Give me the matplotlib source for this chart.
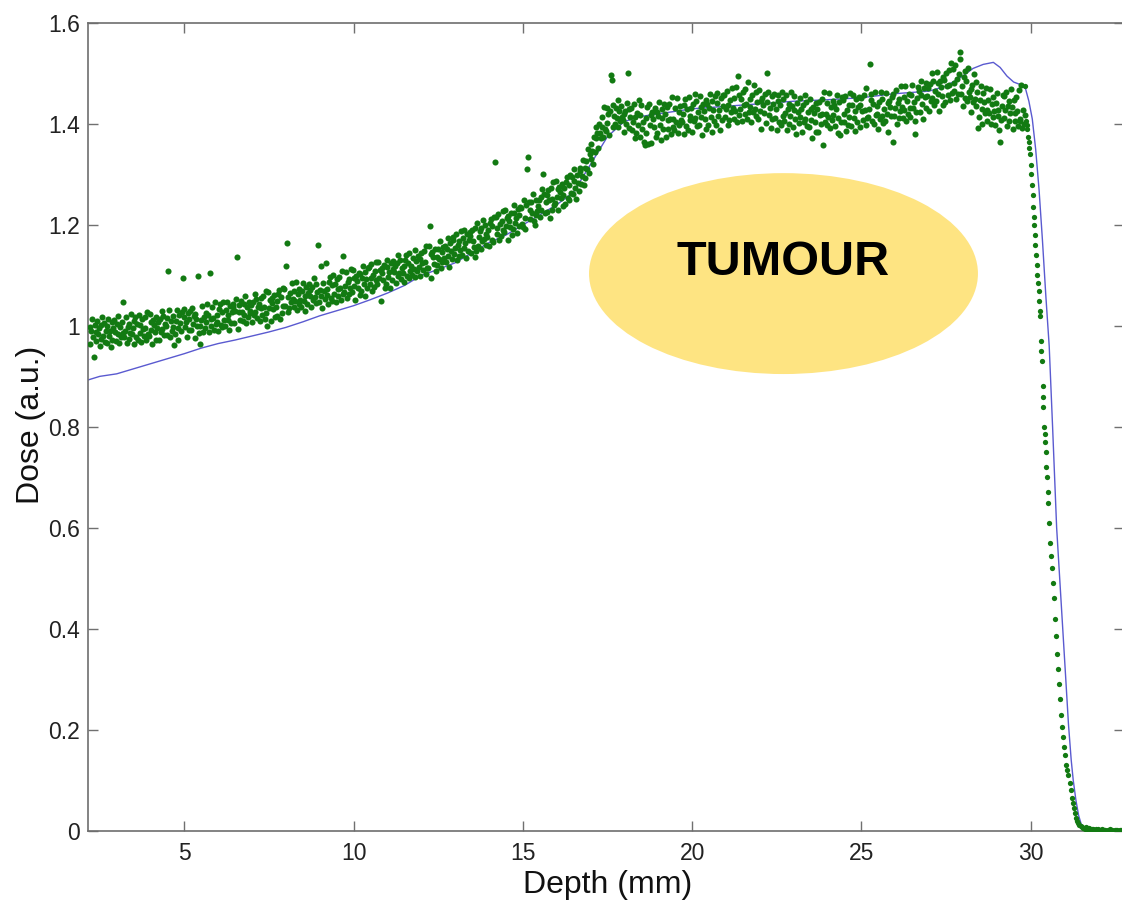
import matplotlib
matplotlib.use('Agg')
import matplotlib.pyplot as plt
import matplotlib.patches as patches
from matplotlib.ticker import FuncFormatter
import numpy as np

# measured dose before the fall-off, in thousandths,
# one row per mm starting at 2.2 mm, points 0.025 mm apart
band_start = 2.2
band_step = 0.025
band_rows = [
    [997, 965, 990, 1013, 977, 938, 1002, 987, 971, 1009, 983, 995, 960, 1001, 975, 1017, 980, 1006, 968, 990,
     966, 999, 1014, 979, 989, 959, 1007, 973, 995, 1011, 988, 971, 1004, 983, 1020, 966, 998, 978, 1008, 986],
    [1048, 978, 990, 1018, 966, 997, 974, 1004, 986, 1023, 983, 996, 965, 1009, 1018, 977, 1003, 972, 1022, 986,
     1002, 968, 1013, 993, 980, 1017, 995, 972, 1028, 983, 979, 1023, 991, 1007, 964, 1011, 1001, 988, 1017, 973],
    [996, 1008, 973, 1014, 988, 1030, 993, 1019, 981, 1003, 999, 982, 1015, 1108, 1031, 977, 1009, 989, 1019, 997,
     962, 984, 1009, 1032, 996, 973, 1021, 1006, 990, 1028, 1095, 1018, 1033, 998, 1008, 978, 1026, 992, 1014, 1030],
    [991, 1035, 1003, 1019, 976, 1023, 1013, 1000, 1098, 985, 964, 999, 1011, 1039, 987, 1018, 995, 1025, 1007, 1044,
     1022, 988, 1105, 1013, 1000, 1037, 1015, 992, 1048, 1003, 1008, 1021, 990, 1034, 1043, 1002, 1028, 997, 1047, 1011],
    [999, 1032, 1047, 1012, 1022, 992, 1040, 1006, 1028, 1044, 1037, 1005, 1030, 1053, 1136, 994, 1042, 1027, 1011, 1049,
     1027, 1010, 1043, 1022, 1059, 1005, 1037, 1017, 1047, 1025, 1030, 1042, 1007, 1048, 1022, 1064, 1027, 1053, 1015, 1037],
    [1044, 1010, 1055, 1035, 1022, 1059, 1037, 1014, 1070, 1025, 1000, 1068, 1036, 1052, 1009, 1056, 1046, 1033, 1062, 1018,
     1037, 1050, 1019, 1063, 1072, 1014, 1057, 1026, 1076, 1040, 1073, 1039, 1118, 1164, 1027, 1058, 1035, 1065, 1047, 1084],
    [1054, 1037, 1070, 1049, 1086, 1032, 1064, 1044, 1074, 1052, 1037, 1070, 1085, 1050, 1060, 1030, 1078, 1044, 1066, 1082,
     1060, 1072, 1037, 1078, 1052, 1094, 1057, 1083, 1045, 1067, 1160, 1047, 1072, 1118, 1059, 1036, 1084, 1069, 1053, 1125],
    [1061, 1074, 1043, 1087, 1096, 1055, 1081, 1050, 1100, 1064, 1082, 1048, 1093, 1073, 1060, 1097, 1075, 1052, 1108, 1063,
     1138, 1067, 1079, 1107, 1055, 1086, 1063, 1093, 1075, 1112, 1067, 1111, 1079, 1095, 1052, 1099, 1089, 1076, 1105, 1061],
    [1102, 1070, 1095, 1118, 1082, 1059, 1107, 1092, 1076, 1114, 1116, 1082, 1094, 1122, 1070, 1101, 1078, 1108, 1090, 1127,
     1082, 1126, 1094, 1110, 1050, 1114, 1104, 1091, 1120, 1076, 1083, 1116, 1131, 1096, 1106, 1076, 1124, 1090, 1112, 1128],
    [1107, 1119, 1084, 1125, 1099, 1141, 1104, 1130, 1092, 1114, 1105, 1118, 1087, 1131, 1140, 1099, 1125, 1094, 1144, 1108,
     1118, 1101, 1134, 1113, 1150, 1096, 1128, 1108, 1138, 1116, 1133, 1099, 1144, 1124, 1111, 1148, 1126, 1103, 1159, 1114],
    [1114, 1158, 1198, 1142, 1095, 1146, 1136, 1123, 1152, 1108, 1137, 1120, 1153, 1132, 1169, 1115, 1147, 1127, 1157, 1135,
     1159, 1127, 1152, 1175, 1139, 1116, 1164, 1149, 1133, 1171, 1176, 1142, 1154, 1182, 1130, 1161, 1138, 1168, 1150, 1187],
    [1141, 1174, 1189, 1154, 1164, 1134, 1182, 1148, 1170, 1186, 1178, 1144, 1189, 1169, 1156, 1193, 1137, 1148, 1204, 1159,
     1176, 1188, 1153, 1194, 1168, 1210, 1173, 1199, 1161, 1183, 1177, 1190, 1159, 1203, 1212, 1171, 1197, 1166, 1216, 1325],
    [1216, 1182, 1194, 1222, 1170, 1201, 1178, 1208, 1190, 1227, 1186, 1230, 1198, 1214, 1171, 1218, 1208, 1195, 1224, 1180,
     1191, 1224, 1239, 1204, 1214, 1184, 1232, 1198, 1220, 1236, 1234, 1202, 1196, 1250, 1214, 1191, 1239, 1310, 1334, 1246],
    [1229, 1212, 1245, 1224, 1261, 1207, 1200, 1219, 1249, 1227, 1238, 1250, 1215, 1256, 1230, 1272, 1300, 1261, 1223, 1245,
     1259, 1225, 1270, 1250, 1214, 1274, 1252, 1229, 1285, 1240, 1244, 1288, 1256, 1272, 1229, 1276, 1266, 1253, 1282, 1238],
    [1260, 1273, 1242, 1286, 1295, 1254, 1280, 1249, 1299, 1263, 1294, 1262, 1287, 1310, 1274, 1251, 1299, 1284, 1268, 1306,
     1313, 1282, 1297, 1328, 1279, 1313, 1293, 1326, 1311, 1351, 1303, 1341, 1361, 1331, 1346, 1321, 1374, 1345, 1372, 1393],
    [1383, 1352, 1400, 1383, 1373, 1413, 1394, 1374, 1433, 1391, 1387, 1432, 1402, 1419, 1378, 1426, 1497, 1488, 1437, 1394,
     1416, 1399, 1432, 1411, 1448, 1394, 1426, 1406, 1436, 1414, 1407, 1419, 1384, 1425, 1399, 1441, 1500, 1430, 1392, 1414],
    [1432, 1388, 1404, 1440, 1372, 1413, 1383, 1422, 1398, 1447, 1374, 1417, 1437, 1391, 1404, 1365, 1358, 1383, 1412, 1433,
     1360, 1439, 1397, 1418, 1362, 1423, 1410, 1393, 1431, 1374, 1424, 1382, 1415, 1444, 1398, 1368, 1430, 1411, 1390, 1439],
    [1419, 1375, 1433, 1407, 1390, 1439, 1410, 1380, 1453, 1394, 1410, 1388, 1431, 1404, 1452, 1382, 1423, 1397, 1436, 1408,
     1403, 1420, 1380, 1437, 1449, 1395, 1429, 1389, 1454, 1407, 1415, 1431, 1385, 1439, 1405, 1459, 1411, 1445, 1396, 1424],
    [1398, 1455, 1413, 1434, 1378, 1439, 1426, 1409, 1447, 1390, 1440, 1398, 1431, 1460, 1414, 1384, 1446, 1427, 1406, 1455,
     1398, 1441, 1461, 1415, 1428, 1389, 1452, 1407, 1436, 1457, 1457, 1413, 1429, 1465, 1397, 1438, 1408, 1447, 1423, 1472],
    [1431, 1409, 1452, 1425, 1473, 1403, 1496, 1418, 1457, 1429, 1449, 1405, 1463, 1437, 1420, 1469, 1440, 1410, 1483, 1424,
     1434, 1450, 1404, 1458, 1424, 1478, 1430, 1464, 1415, 1443, 1410, 1467, 1425, 1446, 1390, 1451, 1438, 1421, 1459, 1402],
    [1500, 1444, 1464, 1418, 1431, 1392, 1455, 1410, 1439, 1460, 1412, 1429, 1389, 1446, 1458, 1404, 1438, 1398, 1463, 1416,
     1449, 1405, 1421, 1457, 1389, 1430, 1400, 1439, 1415, 1464, 1436, 1394, 1427, 1456, 1410, 1380, 1442, 1423, 1402, 1451],
    [1414, 1430, 1384, 1438, 1404, 1458, 1410, 1444, 1395, 1423, 1393, 1450, 1408, 1429, 1373, 1434, 1421, 1404, 1442, 1385,
     1429, 1385, 1443, 1417, 1400, 1449, 1420, 1359, 1463, 1404, 1420, 1398, 1441, 1414, 1462, 1392, 1433, 1407, 1446, 1418],
    [1438, 1396, 1429, 1458, 1412, 1382, 1444, 1378, 1404, 1453, 1447, 1403, 1419, 1455, 1387, 1428, 1398, 1437, 1413, 1462,
     1395, 1438, 1458, 1412, 1425, 1386, 1449, 1404, 1433, 1454, 1437, 1393, 1451, 1425, 1408, 1457, 1428, 1398, 1471, 1412],
    [1413, 1430, 1518, 1447, 1459, 1405, 1439, 1399, 1464, 1417, 1420, 1436, 1390, 1444, 1410, 1464, 1416, 1450, 1401, 1429,
     1405, 1462, 1420, 1441, 1385, 1446, 1433, 1416, 1454, 1365, 1460, 1416, 1432, 1468, 1400, 1441, 1411, 1450, 1426, 1475],
    [1433, 1411, 1454, 1427, 1475, 1405, 1446, 1420, 1459, 1431, 1414, 1457, 1477, 1431, 1444, 1405, 1380, 1423, 1452, 1473,
     1466, 1424, 1457, 1486, 1440, 1410, 1472, 1453, 1432, 1481, 1456, 1472, 1426, 1480, 1446, 1500, 1452, 1486, 1437, 1465],
    [1445, 1502, 1460, 1481, 1425, 1486, 1473, 1456, 1494, 1437, 1487, 1443, 1501, 1475, 1458, 1507, 1478, 1448, 1521, 1462,
     1509, 1465, 1481, 1517, 1449, 1490, 1460, 1499, 1528, 1543, 1459, 1476, 1436, 1493, 1505, 1451, 1485, 1445, 1510, 1463],
    [1454, 1470, 1424, 1478, 1444, 1498, 1450, 1484, 1435, 1463, 1392, 1414, 1447, 1476, 1430, 1400, 1462, 1443, 1422, 1471,
     1427, 1405, 1448, 1421, 1469, 1399, 1440, 1414, 1453, 1425, 1398, 1441, 1461, 1415, 1428, 1389, 1364, 1407, 1436, 1457],
    [1455, 1411, 1427, 1463, 1395, 1436, 1406, 1445, 1421, 1470, 1434, 1390, 1448, 1422, 1405, 1454, 1425, 1395, 1468, 1409,
     1405, 1478, 1392, 1427, 1400, 1418],
]

# measured dose in the distal fall-off and beyond
fall_depth = [29.83, 29.86, 29.88, 29.90, 29.92, 29.94, 29.96, 29.98, 30.00, 30.02, 30.04, 30.06, 30.07, 30.09,
              30.10, 30.12, 30.14, 30.16, 30.18, 30.20, 30.22, 30.24, 30.26, 30.28, 30.29, 30.31, 30.32, 30.33,
              30.36, 30.37, 30.38, 30.40, 30.42, 30.43, 30.45, 30.46, 30.48, 30.50, 30.52, 30.55, 30.58, 30.60,
              30.63, 30.66, 30.70, 30.73, 30.76, 30.79, 30.82, 30.85, 30.88, 30.91, 30.94, 30.97, 31.00, 31.03,
              31.06, 31.09, 31.12, 31.15, 31.18, 31.21, 31.24, 31.27, 31.30, 31.33, 31.36, 31.40, 31.44, 31.48,
              31.52, 31.56, 31.60, 31.64, 31.68, 31.72, 31.76, 31.80, 31.84, 31.88, 31.92, 31.96, 32.00, 32.04,
              32.08, 32.12, 32.16, 32.20, 32.24, 32.28, 32.32, 32.36, 32.40, 32.44, 32.48, 32.52, 32.56, 32.60,
              32.64, 32.68, 32.72]
fall_dose = [1.475, 1.405, 1.390, 1.398, 1.375, 1.365, 1.352, 1.340, 1.318, 1.300, 1.280, 1.260, 1.235, 1.215,
             1.200, 1.180, 1.160, 1.140, 1.120, 1.100, 1.085, 1.070, 1.050, 1.030, 1.020, 0.970, 0.950, 0.930,
             0.880, 0.860, 0.840, 0.800, 0.785, 0.770, 0.750, 0.720, 0.700, 0.670, 0.650, 0.610, 0.570, 0.545,
             0.520, 0.490, 0.460, 0.420, 0.385, 0.350, 0.320, 0.290, 0.260, 0.230, 0.205, 0.185, 0.165, 0.150,
             0.130, 0.120, 0.110, 0.095, 0.080, 0.065, 0.055, 0.045, 0.035, 0.025, 0.020, 0.015, 0.012, 0.009,
             0.007, 0.006, 0.004, 0.007, 0.003, 0.005, 0.002, 0.004, 0.003, 0.001, 0.003, 0.002, 0.004, 0.001,
             0.002, 0.003, 0.001, 0.002, 0.000, 0.002, 0.001, 0.003, 0.001, 0.000, 0.002, 0.001, 0.002, 0.000,
             0.001, 0.002, 0.001]

# simulated depth-dose curve
sim_depth = [2.16, 2.5, 3.0, 3.5, 4.0, 4.5, 5.0, 5.5, 6.0, 6.5, 7.0, 7.5, 8.0, 8.5, 9.0, 9.5, 10.0, 10.5,
             11.0, 11.5, 12.0, 12.5, 13.0, 13.5, 14.0, 14.5, 15.0, 15.5, 16.0, 16.5, 17.0, 17.5, 18.0, 18.5,
             19.0, 20.0, 21.0, 22.0, 23.0, 24.0, 25.0, 26.0, 27.0, 27.5, 28.0, 28.3, 28.6, 28.9, 29.1, 29.3,
             29.5, 29.7, 29.85, 29.95, 30.05, 30.15, 30.25, 30.35, 30.45, 30.55, 30.65, 30.77, 30.86, 30.95,
             31.04, 31.12, 31.2, 31.26, 31.34, 31.42, 31.5, 31.6, 31.8, 32.2, 32.75]
sim_dose = [0.893, 0.900, 0.905, 0.915, 0.925, 0.935, 0.945, 0.956, 0.965, 0.972, 0.980, 0.988, 0.997, 1.008,
            1.020, 1.030, 1.040, 1.052, 1.065, 1.080, 1.100, 1.112, 1.125, 1.145, 1.165, 1.180, 1.200, 1.220,
            1.240, 1.265, 1.320, 1.375, 1.405, 1.415, 1.420, 1.430, 1.435, 1.440, 1.445, 1.448, 1.452, 1.460,
            1.465, 1.475, 1.495, 1.510, 1.518, 1.522, 1.512, 1.495, 1.483, 1.478, 1.470, 1.445, 1.410, 1.350,
            1.270, 1.170, 1.060, 0.960, 0.800, 0.600, 0.500, 0.400, 0.300, 0.210, 0.140, 0.100, 0.060, 0.030,
            0.012, 0.004, 0.001, 0.000, 0.000]

x_ticks = [5, 10, 15, 20, 25, 30]
y_ticks = [0, 0.2, 0.4, 0.6, 0.8, 1.0, 1.2, 1.4, 1.6]

W, H = 1122, 905
fig = plt.figure(figsize=(W / 100, H / 100), dpi=100)
# axes box in pixels: left spine 88, right spine just past the edge, top 23, bottom 831
ax = fig.add_axes([88.3 / W, (H - 830.7) / H, (1123.5 - 88.3) / W, (830.7 - 23) / H])

band_dose = np.concatenate([np.array(r, dtype=float) for r in band_rows]) / 1000.0
band_depth = band_start + band_step * np.arange(len(band_dose))

green = '#127a12'
ax.plot(sim_depth, sim_dose, color='#5a5ad0', lw=1.0, zorder=2)
ax.plot(band_depth, band_dose, ls='none', marker='o', ms=4.4, mew=0, color=green, zorder=3)
ax.plot(fall_depth, fall_dose, ls='none', marker='o', ms=3.8, mew=0, color=green, zorder=3)

ax.set_xlim(2.162, 32.745)
ax.set_ylim(0, 1.6)
ax.set_xticks(x_ticks)
ax.set_yticks(y_ticks)
ax.yaxis.set_major_formatter(FuncFormatter(lambda v, p: '%g' % v))

font = 'Liberation Sans'
ax.tick_params(direction='in', top=True, right=True, length=7, width=1.0, color='#707070',
               labelsize=16.5, labelcolor='#222222', pad=6)
ax.tick_params(axis='x', pad=8)
for lab in ax.get_xticklabels() + ax.get_yticklabels():
    lab.set_family(font)
for s in ax.spines.values():
    s.set_color('#6e6e6e')
    s.set_linewidth(1.2)

ax.set_xlabel('Depth (mm)', fontsize=23, family=font, color='#111111')
ax.set_ylabel('Dose (a.u.)', fontsize=23, family=font, color='#111111')
ax.xaxis.set_label_coords(0.502, -0.049)
ax.yaxis.set_label_coords(-0.041, 0.502)

# tumour marker
ax.add_patch(patches.Ellipse((22.70, 1.1036), 11.49, 0.398, facecolor='#fee482', edgecolor='none', zorder=4))
ax.text(22.69, 1.100, 'TUMOUR', fontsize=35, fontweight='bold', family=font,
        ha='center', va='baseline', color='black', zorder=5)

fig.savefig('out.png', dpi=100)
